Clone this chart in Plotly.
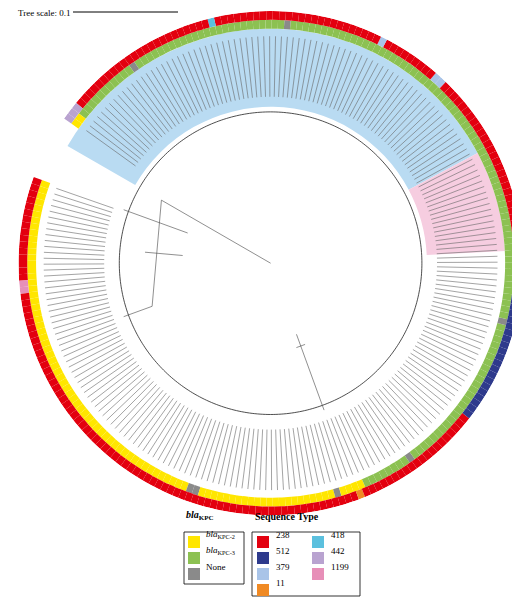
import plotly.graph_objects as go
import numpy as np

# Sequence-type runs, counterclockwise from the start of the ring (left side)
st_runs = [("238",16),("1199",2),("238",69),("11",1),("238",20),("512",26),("238",30),
           ("379",2),("238",9),("379",1),("238",26),("418",1),("238",24),("442",3)]
kpc_runs = [("KPC-2",60),("None",2),("KPC-2",22),("None",1),("KPC-2",4),("KPC-3",8),("None",1),
            ("KPC-3",26),("None",1),("KPC-3",66),("None",1),("KPC-3",25),("None",1),("KPC-3",11),("KPC-2",2)]
st_colors = {"238":"#e3000f","512":"#2e3a8c","379":"#a9c4e8","11":"#f08a24",
             "418":"#5bc0de","442":"#b9a3d0","1199":"#e78fb8"}
kpc_colors = {"KPC-2":"#ffe600","KPC-3":"#8cc152","None":"#8a8a8a"}
sector_blue = (388, 510)
sector_pink = (363, 388)
start_theta, span = 160, 345

def expand(runs):
    out = []
    for k, n in runs:
        out += [k]*n
    return out

st = expand(st_runs); kp = expand(kpc_runs)
n = len(st); w = span/n
theta = [start_theta + w*(i+0.5) for i in range(n)]
wk = span/len(kp); theta_k = [start_theta + wk*(i+0.5) for i in range(len(kp))]

fig = go.Figure()
fig.add_trace(go.Barpolar(theta=[(sector_blue[0]+sector_blue[1])/2], width=[sector_blue[1]-sector_blue[0]],
    r=[0.31], base=0.62, marker_color="#b9dbf2", marker_line_width=0))
fig.add_trace(go.Barpolar(theta=[(sector_pink[0]+sector_pink[1])/2], width=[sector_pink[1]-sector_pink[0]],
    r=[0.31], base=0.62, marker_color="#f6cde0", marker_line_width=0))
# label strips
lt, lr = [], []
for t in theta:
    lt += [t, t, None]; lr += [0.66, 0.9, None]
fig.add_trace(go.Scatterpolar(theta=lt, r=lr, mode="lines", line=dict(color="#666", width=0.6)))
fig.add_trace(go.Barpolar(theta=theta_k, width=[wk]*len(kp), r=[0.035]*len(kp), base=0.93,
    marker_color=[kpc_colors[k] for k in kp], marker_line_width=0))
fig.add_trace(go.Barpolar(theta=theta, width=[w]*n, r=[0.035]*n, base=0.965,
    marker_color=[st_colors[k] for k in st], marker_line_width=0))
# inner circle and a few tree branches
ct = list(np.linspace(0, 360, 361))
fig.add_trace(go.Scatterpolar(theta=ct, r=[0.6]*361, mode="lines", line=dict(color="#222", width=0.8)))
br_t = [150,150,None,150,200,None,200,200,None,175,175,None,160,160,None,290,290,None,287,293]
br_r = [0.0,0.5,None,0.5,0.5,None,0.5,0.62,None,0.5,0.35,None,0.35,0.62,None,0.3,0.62,None,0.35,0.35]
fig.add_trace(go.Scatterpolar(theta=br_t, r=br_r, mode="lines", line=dict(color="#444", width=0.6)))

fig.update_layout(width=520, height=604, margin=dict(l=0,r=0,t=0,b=0), showlegend=False,
    paper_bgcolor="white", font=dict(family="Liberation Serif", color="black"),
    polar=dict(domain=dict(x=[0.02,0.99], y=[0.16,0.995]), bgcolor="white", hole=0,
        radialaxis=dict(range=[0,1], visible=False), bargap=0,
        angularaxis=dict(visible=False, rotation=0, direction="counterclockwise")))

def px(x): return x/520
def py(y): return 1-y/604
shapes = [dict(type="line", xref="paper", yref="paper", x0=px(65), x1=px(170), y0=py(4), y1=py(4), line=dict(color="black", width=1))]
ann = [dict(text="Tree scale: 0.1", x=px(8), y=py(5), xanchor="left", yanchor="middle", showarrow=False, font=dict(size=9))]
# legends
shapes.append(dict(type="rect", xref="paper", yref="paper", x0=px(176), x1=px(236), y0=py(576), y1=py(524), line=dict(color="black", width=0.8)))
shapes.append(dict(type="rect", xref="paper", yref="paper", x0=px(244), x1=px(352), y0=py(588), y1=py(524), line=dict(color="black", width=0.8)))
ann.append(dict(text="<b><i>bla</i><sub>KPC</sub></b>", x=px(176), y=py(516), xanchor="left", showarrow=False, font=dict(size=10)))
ann.append(dict(text="<b>Sequence Type</b>", x=px(245), y=py(516), xanchor="left", showarrow=False, font=dict(size=10)))
kpc_leg = [("KPC-2", "<i>bla</i><sub>KPC-2</sub>"), ("KPC-3", "<i>bla</i><sub>KPC-3</sub>"), ("None", "None")]
for i, (k, lab) in enumerate(kpc_leg):
    y = 534 + i*16
    shapes.append(dict(type="rect", xref="paper", yref="paper", x0=px(180), x1=px(192), y0=py(y+6), y1=py(y-6), fillcolor=kpc_colors[k], line=dict(width=0)))
    ann.append(dict(text=lab, x=px(196), y=py(y), xanchor="left", showarrow=False, font=dict(size=9)))
st_leg = ["238","512","379","11","418","442","1199"]
for i, k in enumerate(st_leg):
    col, row = (0, i) if i < 4 else (1, i-4)
    x = 249 + col*55; y = 534 + row*16
    shapes.append(dict(type="rect", xref="paper", yref="paper", x0=px(x), x1=px(x+12), y0=py(y+6), y1=py(y-6), fillcolor=st_colors[k], line=dict(width=0)))
    ann.append(dict(text=k, x=px(x+17), y=py(y), xanchor="left", showarrow=False, font=dict(size=9)))
fig.update_layout(shapes=shapes, annotations=ann)
fig.write_html("out.html")
